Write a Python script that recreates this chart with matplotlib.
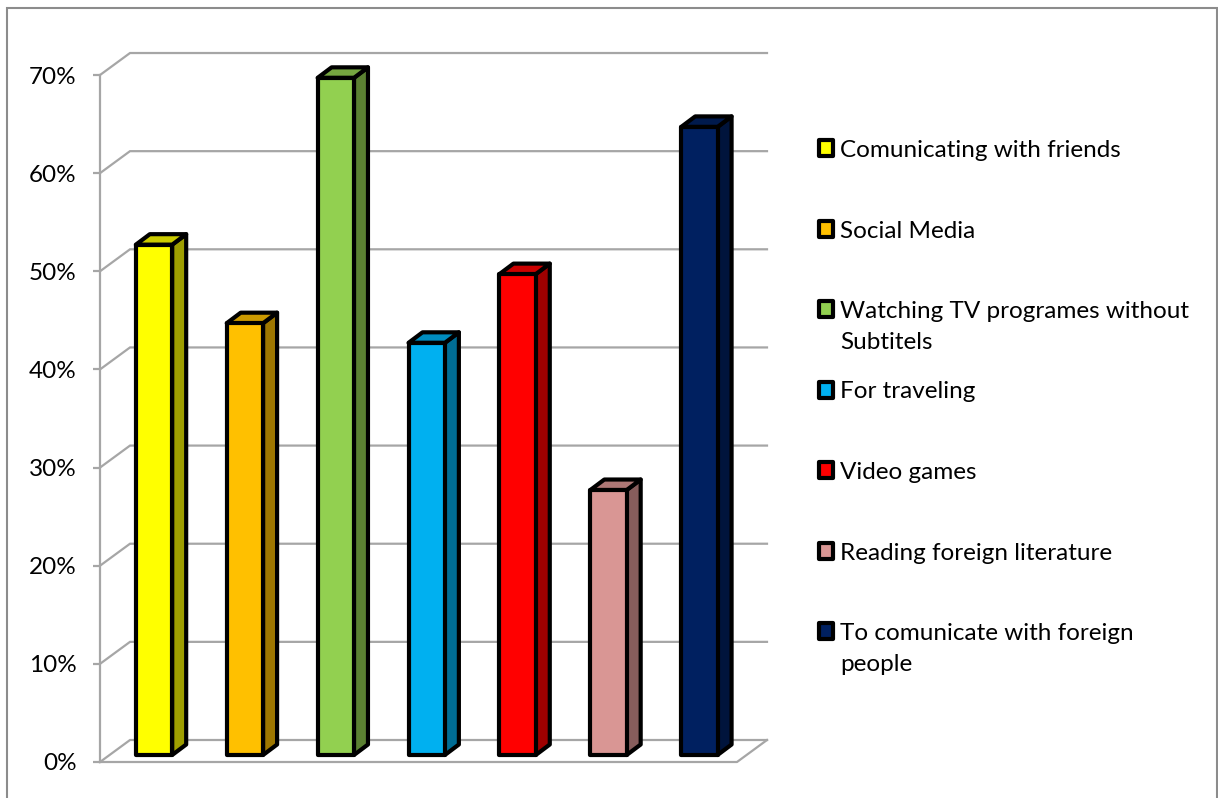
import matplotlib
matplotlib.use("Agg")
import matplotlib.pyplot as plt
from matplotlib.patches import Polygon, Rectangle
from matplotlib.colors import to_rgb
from matplotlib.ticker import FuncFormatter

plt.rcParams['font.family'] = ['Lato', 'DejaVu Sans']

# ---- data ----
categories = ["Comunicating with friends", "Social Media",
              "Watching TV programes without\nSubtitels", "For traveling",
              "Video games", "Reading foreign literature",
              "To comunicate with foreign\npeople"]
values = [52, 44, 69, 42, 49, 27, 64]
colors = ["#FFFF00", "#FFC000", "#92D050", "#00B0F0", "#FF0000", "#D99694", "#002060"]
yticks = [0, 10, 20, 30, 40, 50, 60, 70]

W, H = 1218, 798
fig = plt.figure(figsize=(W / 100, H / 100), dpi=100)

# pixel <-> data mapping (front plane)
X0, DXp = 154.0, 90.9     # pixel x of first bar centre, pixels per category
Y0, DYp = 762.0, 9.814    # pixel y of 0 %, pixels per percent
ax = fig.add_axes([0, 0, 1, 1])
ax.set_xlim((0 - X0) / DXp, (W - X0) / DXp)
ax.set_ylim((Y0 - H) / DYp, Y0 / DYp)
ax.set_facecolor('none')

grid_c = "#A6A6A6"
axis_x = (100 - X0) / DXp          # front axis position
depth_x = 30 / DXp                  # wall depth offset
depth_y = 22 / DYp
floor_right = (737 - X0) / DXp

# y axis via spine
for s in ['top', 'right', 'bottom']:
    ax.spines[s].set_visible(False)
ax.spines['left'].set_position(('data', axis_x))
ax.spines['left'].set_bounds(0, 70)
ax.spines['left'].set_color(grid_c)
ax.spines['left'].set_linewidth(1.6)
ax.set_xticks([])
ax.set_yticks(yticks)
ax.yaxis.set_major_formatter(FuncFormatter(lambda v, p: f"{int(v)}%"))
ax.tick_params(axis='y', length=5, width=1.6, color=grid_c, pad=12,
               labelsize=17.5, labelcolor='black')

# gridlines: diagonal + back wall lines
for t in yticks:
    ax.plot([axis_x, axis_x + depth_x, floor_right + depth_x],
            [t, t + depth_y, t + depth_y], color=grid_c, lw=1.6,
            solid_joinstyle='miter', zorder=1)
# floor front and right edges
ax.plot([axis_x, floor_right, floor_right + depth_x],
        [0, 0, depth_y], color=grid_c, lw=1.6, zorder=1)

# bars (3D-look)
bw = 0.40
base = 7 / DYp
bdx = 14 / DXp
bdy = 10.5 / DYp
elw = 3.0


def shade(c, f):
    r, g, b = to_rgb(c)
    return (r * f, g * f, b * f)


xs = list(range(len(values)))
for x, v, c in zip(xs, values, colors):
    l, r = x - bw / 2, x + bw / 2
    top = base + v
    side = Polygon([(r, base), (r + bdx, base + bdy), (r + bdx, top + bdy), (r, top)],
                   closed=True, facecolor=shade(c, 0.62), edgecolor='black',
                   lw=elw, joinstyle='round', zorder=3)
    topf = Polygon([(l, top), (l + bdx, top + bdy), (r + bdx, top + bdy), (r, top)],
                   closed=True, facecolor=shade(c, 0.80), edgecolor='black',
                   lw=elw, joinstyle='round', zorder=3)
    ax.add_patch(side)
    ax.add_patch(topf)
ax.bar(xs, values, width=bw, bottom=base, color=colors, edgecolor='black',
       linewidth=elw, zorder=4, joinstyle='round')

# legend (manual, in figure pixels)
def fx(px):
    return px / W


def fy(py):
    return 1 - py / H


leg_base0 = 157
leg_step = 80.5
line_step = 31
for i, (lab, c) in enumerate(zip(categories, colors)):
    by = leg_base0 + i * leg_step
    fig.patches.append(Rectangle((fx(819), fy(by - 1)), 14 / W, 16 / H,
                                 transform=fig.transFigure, facecolor=c,
                                 edgecolor='black', lw=3.0, joinstyle='round'))
    for k, line in enumerate(lab.split("\n")):
        fig.text(fx(840), fy(by + k * line_step), line, fontsize=17.5,
                 va='baseline', ha='left')

# outer frame
fig.patches.append(Rectangle((fx(7), fy(805)), (1217 - 7) / W, (805 - 8) / H,
                             transform=fig.transFigure, facecolor='none',
                             edgecolor='#8C8C8C', lw=1.5, clip_on=False))

fig.savefig("out.png", dpi=100)
